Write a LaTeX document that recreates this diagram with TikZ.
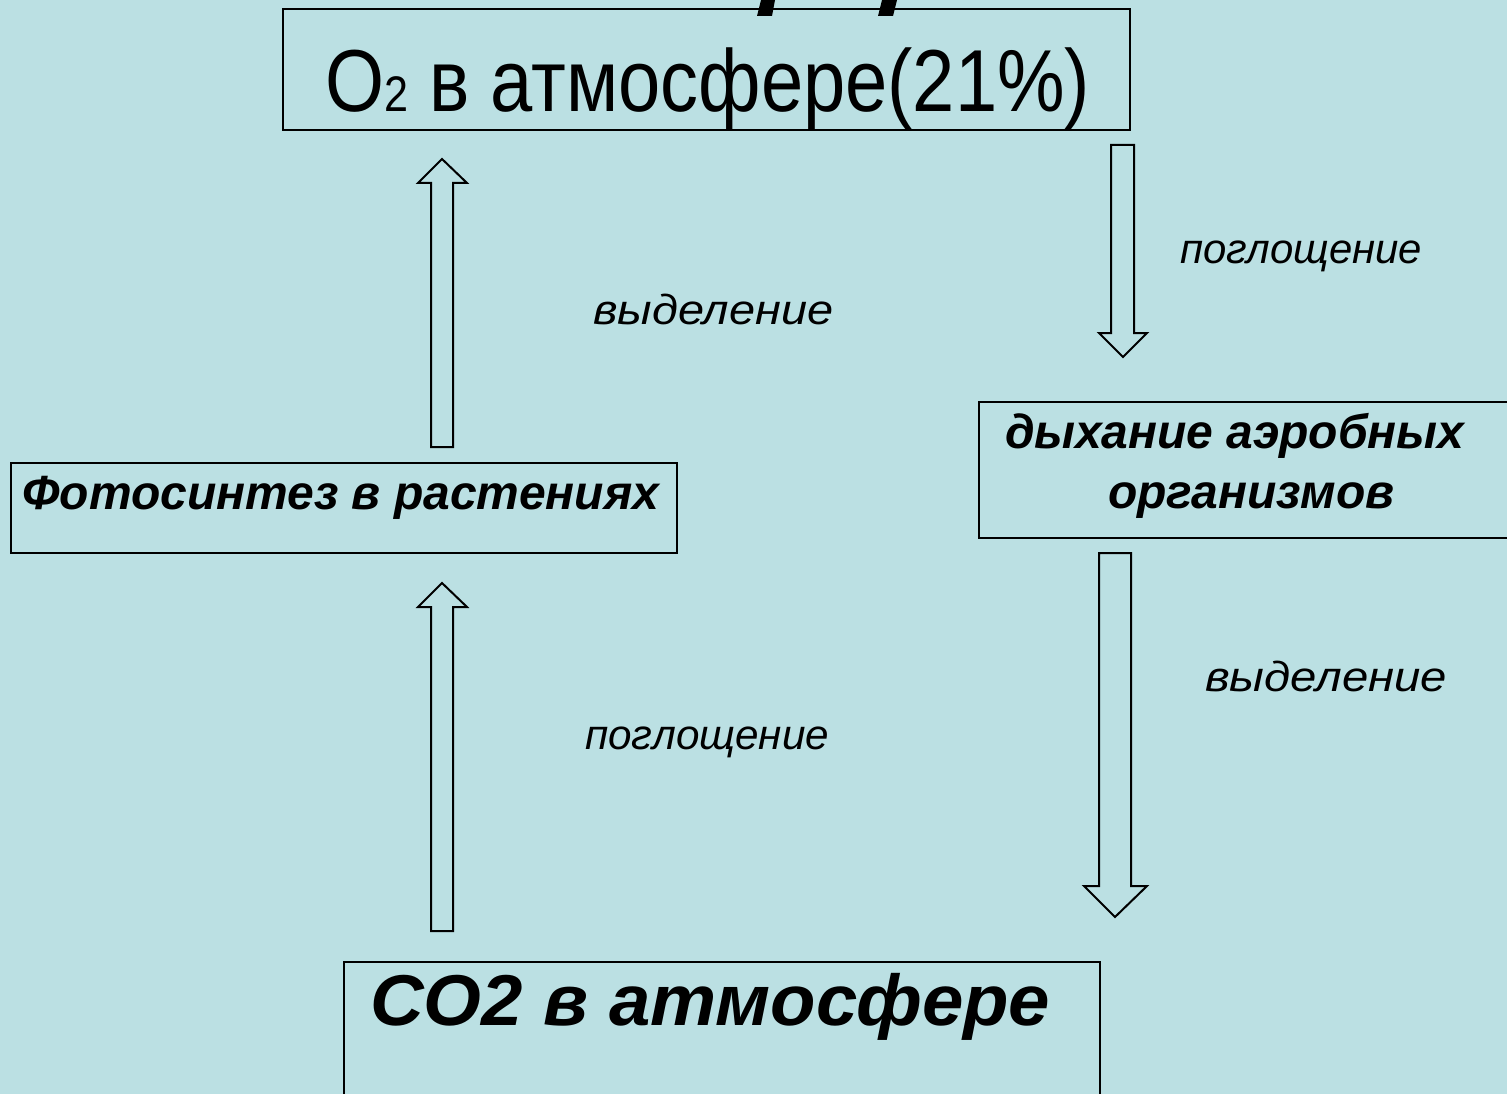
\documentclass[tikz,border=0pt]{standalone}
\usepackage{fontspec}
\setmainfont{Liberation Sans}
\definecolor{bgc}{RGB}{187,224,227}
\tikzset{
  x=1pt, y=-1pt,
  box/.style={draw=black, line width=1.8pt},
  blockarrow/.style={draw=black, line width=2pt, fill=bgc, line join=miter},
  lbl/.style={anchor=base west, inner sep=0pt, font=\fontsize{42}{48}\selectfont\itshape},
  boxtxt/.style={anchor=base west, inner sep=0pt, font=\fontsize{48}{56}\selectfont\bfseries\itshape},
}
\begin{document}
\begin{tikzpicture}
\useasboundingbox (0,0) rectangle (1507,1094);
\clip (0,0) rectangle (1507,1094);
\fill[bgc] (0,0) rectangle (1507,1094);
% fragment of cut-off title
\fill[black] (761,0) -- (775,0) -- (772,16) -- (757,16) -- cycle;
\fill[black] (882,0) -- (897,0) -- (893,16) -- (878,16) -- cycle;
% boxes
\draw[box] (283,9) rectangle (1130,130);
\draw[box] (11,463) rectangle (677,553);
\draw[box] (979,402) rectangle (1530,538);
\draw[box] (344,962) rectangle (1100,1120);
% box texts
\node[anchor=base west, inner sep=0pt] (o2) at (325,112)
  {\resizebox{765pt}{\height}{\fontsize{88}{100}\selectfont O{\fontsize{50}{56}\selectfont 2} в атмосфере(21\%)}};
\node[boxtxt] (photo) at (22,509) {Фотосинтез в растениях};
\node[boxtxt] (resp1) at (1005,448) {дыхание аэробных};
\node[boxtxt] (resp2) at (1108,508) {организмов};
\node[anchor=base west, inner sep=0pt, font=\fontsize{72}{80}\selectfont\bfseries\itshape] (co2) at (370,1025) {\resizebox{680pt}{\height}{СО2 в атмосфере}};
% labels
\node[lbl] (l1) at (593,324) {\resizebox{240pt}{\height}{выделение}};
\node[lbl] (l2) at (1180,263) {\resizebox{242pt}{\height}{поглощение}};
\node[lbl] (l3) at (1205,691) {\resizebox{242pt}{\height}{выделение}};
\node[lbl] (l4) at (585,749) {\resizebox{244pt}{\height}{поглощение}};
% block arrows
\draw[blockarrow] (431,447) -- (431,183) -- (418,183) -- (442,159) -- (467,183) -- (453,183) -- (453,447) -- cycle;
\draw[blockarrow] (431,931) -- (431,607) -- (418,607) -- (442,583) -- (467,607) -- (453,607) -- (453,931) -- cycle;
\draw[blockarrow] (1111,145) -- (1111,333) -- (1099,333) -- (1123,357) -- (1147,333) -- (1134,333) -- (1134,145) -- cycle;
\draw[blockarrow] (1099,553) -- (1099,886) -- (1084,886) -- (1115,917) -- (1147,886) -- (1131,886) -- (1131,553) -- cycle;
\end{tikzpicture}
\end{document}
